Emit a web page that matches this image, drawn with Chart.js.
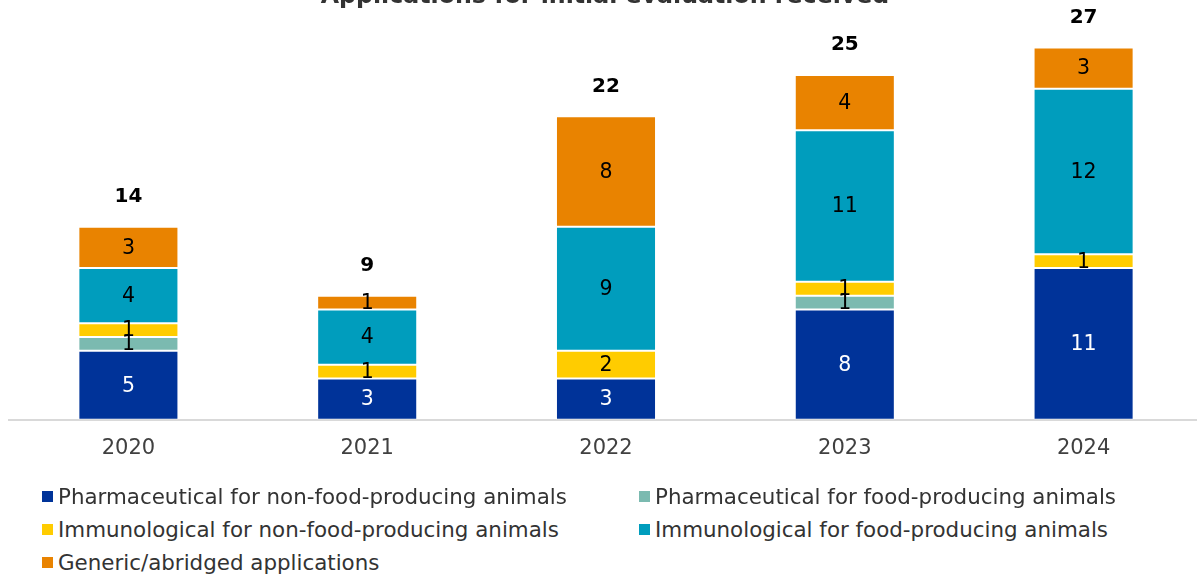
<!DOCTYPE html>
<html>
<head>
<meta charset="utf-8">
<script src="https://cdn.jsdelivr.net/npm/chart.js@4/dist/chart.umd.min.js"></script>
<style>
  html, body { margin: 0; padding: 0; background: #fff; overflow: hidden; width: 1197px; height: 579px; }
  #wrap { position: absolute; left: 0; top: 0; width: 1203px; height: 490px; }
  .leg { position: absolute; font-family: "DejaVu Sans", sans-serif; font-size: 21.4px; color: #333; white-space: nowrap; line-height: 22px; }
  .leg span.m { position: absolute; left: -16px; top: 5px; width: 11px; height: 11px; }
</style>
</head>
<body>
<div id="wrap"><canvas id="c" width="1203" height="490"></canvas></div>
<div id="legend"></div>
<script>
const categories = ["2020", "2021", "2022", "2023", "2024"];
const seriesNames = [
  "Pharmaceutical for non-food-producing animals",
  "Pharmaceutical for food-producing animals",
  "Immunological for non-food-producing animals",
  "Immunological for food-producing animals",
  "Generic/abridged applications"
];
const pharmaNonFood = [5, 3, 3, 8, 11];
const pharmaFood = [1, 0, 0, 1, 0];
const immunoNonFood = [1, 1, 2, 1, 1];
const immunoFood = [4, 4, 9, 11, 12];
const generic = [3, 1, 8, 4, 3];
const totals = [14, 9, 22, 25, 27];
const title = "Applications for initial evaluation received";

const colors = ["#003399", "#7bbab0", "#ffcc00", "#009dbd", "#e98300"];
const labelColors = ["#ffffff", "#000000", "#000000", "#000000", "#000000"];
const seriesData = [pharmaNonFood, pharmaFood, immunoNonFood, immunoFood, generic];

const datasets = seriesData.map((d, i) => ({
  label: seriesNames[i],
  data: d,
  backgroundColor: colors[i],
  borderColor: "rgba(255,255,255,0.25)",
  borderWidth: 1,
  borderSkipped: false,
  barPercentage: 1,
  categoryPercentage: 0.419,
  stack: "s"
}));

const labelsPlugin = {
  id: "labelsPlugin",
  afterDatasetsDraw(chart) {
    const ctx = chart.ctx;
    ctx.save();
    ctx.textAlign = "center";
    ctx.textBaseline = "middle";
    ctx.font = "20.5px 'DejaVu Sans', sans-serif";
    chart.data.datasets.forEach((ds, i) => {
      const meta = chart.getDatasetMeta(i);
      meta.data.forEach((bar, j) => {
        const v = ds.data[j];
        if (!v) return;
        const p = bar.getProps(["x", "y", "base"], true);
        ctx.fillStyle = labelColors[i];
        ctx.fillText(String(v), p.x, (p.y + p.base) / 2 + 1);
      });
    });
    // totals
    ctx.font = "bold 20px 'DejaVu Sans', sans-serif";
    ctx.fillStyle = "#000";
    const yScale = chart.scales.y;
    const xScale = chart.scales.x;
    totals.forEach((t, j) => {
      const x = xScale.getPixelForValue(j);
      const y = yScale.getPixelForValue(t);
      ctx.fillText(String(t), x, y - 30);
    });
    // title (partially clipped at top)
    ctx.font = "bold 23.7px 'DejaVu Sans', sans-serif";
    ctx.fillStyle = "#333";
    ctx.textBaseline = "alphabetic";
    ctx.fillText(title, 605, 2.5);
    ctx.restore();
  }
};

new Chart(document.getElementById("c"), {
  type: "bar",
  data: { labels: categories, datasets },
  options: {
    responsive: false,
    animation: false,
    layout: { padding: { left: 9, right: 0, top: 6, bottom: 13 } },
    plugins: { legend: { display: false }, tooltip: { enabled: false }, title: { display: false } },
    scales: {
      x: {
        stacked: true,
        grid: { display: false, drawTicks: false },
        border: { display: true, color: "#d9d9d9", width: 2 },
        ticks: { color: "#404040", font: { family: "DejaVu Sans", size: 21 }, padding: 16 }
      },
      y: {
        stacked: true,
        display: false,
        min: 0,
        max: 30
      }
    }
  },
  plugins: [labelsPlugin]
});

// legend (HTML)
const legPos = [[58, 486], [655, 486], [58, 519], [655, 519], [58, 552]];
const legendEl = document.getElementById("legend");
seriesNames.forEach((n, i) => {
  const d = document.createElement("div");
  d.className = "leg";
  d.style.left = legPos[i][0] + "px";
  d.style.top = legPos[i][1] + "px";
  const m = document.createElement("span");
  m.className = "m";
  m.style.background = colors[i];
  d.appendChild(m);
  d.appendChild(document.createTextNode(n));
  legendEl.appendChild(d);
});
</script>
</body>
</html>
